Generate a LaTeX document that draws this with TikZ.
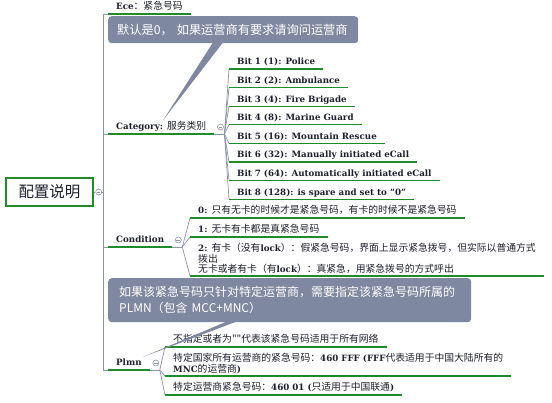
\documentclass[tikz,border=0pt]{standalone}
\usepackage{fontspec}
\setmainfont{DejaVu Serif}
\newfontfamily\cjk{Noto Sans CJK SC}
\usetikzlibrary{calc}
\definecolor{notegray}{RGB}{126,136,160}
\definecolor{leafgreen}{RGB}{30,140,40}
\definecolor{spinegray}{RGB}{140,148,166}
\definecolor{inkdark}{RGB}{30,32,46}
\newcommand{\zh}[1]{{\cjk\mdseries\fontsize{9.8}{10.5}\selectfont #1}}

\begin{document}
\begin{tikzpicture}[x=1pt, y=-1pt,
  lbl/.style={font=\fontsize{8.7}{10.5}\selectfont\bfseries, text=inkdark},
  leaf/.style={lbl, anchor=south west, inner xsep=8pt, inner ysep=2pt, text depth=2pt, align=left},
  uline/.style={leafgreen, line width=1.1pt},
  spine/.style={spinegray, line width=0.9pt},
  fan/.style={spinegray, line width=0.7pt},
  knob/.style={circle, draw=spinegray, fill=white, line width=0.6pt, minimum size=6pt, inner sep=0pt,
    path picture={\draw[spinegray, line width=0.6pt] ([xshift=-1.8pt]path picture bounding box.center) -- ([xshift=1.8pt]path picture bounding box.center);}},
  note/.style={fill=notegray, rounded corners=3.5pt, text=white, align=left, anchor=north west}]
  \useasboundingbox (0,0) rectangle (552,402);

  % root and first level
  \node[draw=leafgreen, line width=1.3pt, fill=white, minimum width=87pt, minimum height=28pt,
    font=\cjk\fontsize{15.5}{18}\selectfont, text=inkdark] (root) at (49.5,192) {配置说明};
  \node[leaf] (ece) at (108,14) {Ece\zh{：紧急号码}};
  \node[leaf] (category) at (108,134) {Category: \zh{服务类别}};
  \node[leaf] (condition) at (108,247) {Condition};
  \node[leaf] (plmn) at (108,370) {Plmn};

  % spine
  \coordinate (sp) at (103,0);
  \node[knob] (rootknob) at ($(root.east)+(5,0)$) {};
  \draw[spine] (root.east) -- (rootknob) -- (rootknob -| sp);
  \draw[spine] (ece.south west) -- (ece.south west -| sp) -- (plmn.south west -| sp) -- (plmn.south west);
  \draw[spine] (category.south west -| sp) -- (category.south west);
  \draw[spine] (condition.south west -| sp) -- (condition.south west);

  % Category bits
  \foreach \i/\yy/\t in {1/69/{Bit 1 (1): Police}, 2/87.6/{Bit 2 (2): Ambulance},
      3/106.2/{Bit 3 (4): Fire Brigade}, 4/124.8/{Bit 4 (8): Marine Guard},
      5/143.4/{Bit 5 (16): Mountain Rescue}, 6/162/{Bit 6 (32): Manually initiated eCall},
      7/180.6/{Bit 7 (64): Automatically initiated eCall}, 8/199.2/{Bit 8 (128): is spare and set to "0"}}
    \node[leaf] (bit\i) at (229,\yy) {\t};
  \coordinate (catfan) at ($(category.south east)+(10,0)$);
  \draw[fan] (category.south east) -- (catfan);
  \foreach \i in {1,...,8}
    \draw[fan] (catfan) -- (bit\i.south west);
  \node[knob] (catknob) at ($(category.south east)+(6,-7)$) {};

  % Condition
  \node[leaf] (cond0) at (190,218) {0: \zh{只有无卡的时候才是紧急号码，有卡的时候不是紧急号码}};
  \node[leaf] (cond1) at (190,237) {1: \zh{无卡有卡都是真紧急号码}};
  \node[leaf, text depth={}] (cond2) at (190,276) {2: \zh{有卡（没有}lock\zh{）：假紧急号码，界面上显示紧急拨号，但实际以普通方式}\\\zh{拨出}\\\zh{无卡或者有卡（有}lock\zh{）：真紧急，用紧急拨号的方式呼出}};
  \coordinate (confan) at ($(condition.south east)+(10,0)$);
  \draw[fan] (condition.south east) -- (confan);
  \foreach \n in {cond0,cond1,cond2}
    \draw[fan] (confan) -- (\n.south west);
  \node[knob] (conknob) at ($(condition.south east)+(6,-7)$) {};

  % Plmn
  \node[leaf] (plmn0) at (165,347) {\zh{不指定或者为""代表该紧急号码适用于所有网络}};
  \node[leaf, text depth={}] (plmn1) at (165,376) {\zh{特定国家所有运营商的紧急号码：}460 FFF (FFF\zh{代表适用于中国大陆所有的}\\MNC\zh{的运营商})};
  \node[leaf] (plmn2) at (165,395) {\zh{特定运营商紧急号码：}460 01 (\zh{只适用于中国联通})};
  \coordinate (plmnfan) at ($(plmn.south east)+(10,0)$);
  \draw[fan] (plmn.south east) -- (plmnfan);
  \foreach \n in {plmn0,plmn1,plmn2}
    \draw[fan] (plmnfan) -- (\n.south west);
  \node[knob] (plmnknob) at ($(plmn.south east)+(6,-7)$) {};

  % underlines
  \foreach \n in {ece,category,condition,plmn,bit1,bit2,bit3,bit4,bit5,bit6,bit7,bit8,cond0,cond1,cond2,plmn0,plmn1,plmn2}
    \draw[uline] (\n.south west) -- (\n.south east);

  % callouts
  \node[note, text width=232pt, inner xsep=9pt, minimum height=27pt, font=\cjk\fontsize{12.2}{16}\selectfont]
    (note1) at (108,16) {默认是0，~如果运营商有要求请询问运营商};
  \fill[notegray] ($(note1.south west)+(105,-1)$) -- ($(note1.south west)+(115,-1)$) -- ($(category.north west)+(55,1)$) -- cycle;
  \node[note, text width=341pt, inner xsep=11pt, minimum height=44pt, font=\cjk\fontsize{12}{16}\selectfont]
    (note2) at (108,278) {如果该紧急号码只针对特定运营商，需要指定该紧急号码所属的\\PLMN（包含~MCC+MNC）};
  \fill[notegray] ($(note2.south west)+(119,-1)$) -- ($(note2.south west)+(129,-1)$) -- ($(plmn.north east)+(-7,0)$) -- cycle;
\end{tikzpicture}
\end{document}
